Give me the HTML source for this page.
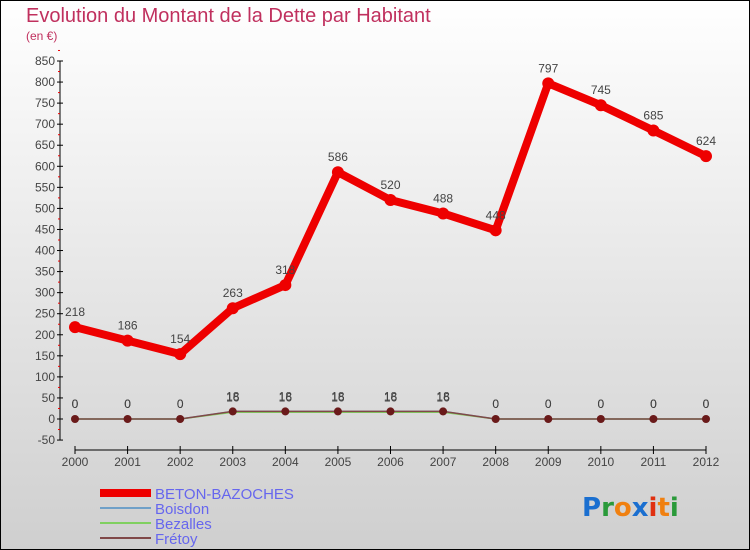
<!DOCTYPE html>
<html><head><meta charset="utf-8"><style>
body{margin:0}
#c{width:750px;height:550px;position:relative;overflow:hidden;font-family:"Liberation Sans",sans-serif}
</style></head><body>
<div id="c">
<svg id="s" width="750" height="550" xmlns="http://www.w3.org/2000/svg">
<defs><linearGradient id="bg" x1="0" y1="0" x2="0" y2="1"><stop offset="0" stop-color="#ffffff"/><stop offset="1" stop-color="#cfcfcf"/></linearGradient></defs>
<rect x="0.5" y="0.5" width="749" height="549" fill="url(#bg)" stroke="#000"/>
<text x="26" y="22" font-size="20" fill="#c0305e">Evolution du Montant de la Dette par Habitant</text>
<text x="26" y="40" font-size="12" fill="#c0305e">(en €)</text>
<g id="axes"></g><g id="series"></g>
<g>
<rect x="100" y="489" width="51" height="8" fill="#e00"/>
<text x="155" y="499" font-size="15" fill="#6666ee">BETON-BAZOCHES</text>
<line x1="100" y1="508" x2="151" y2="508" stroke="#6fa0c8" stroke-width="2"/>
<text x="155" y="514" font-size="15" fill="#6666ee">Boisdon</text>
<line x1="100" y1="523" x2="151" y2="523" stroke="#80d060" stroke-width="2"/>
<text x="155" y="529" font-size="15" fill="#6666ee">Bezalles</text>
<line x1="100" y1="538" x2="151" y2="538" stroke="#804848" stroke-width="2"/>
<text x="155" y="544" font-size="15" fill="#6666ee">Frétoy</text>
</g>
<text x="582" y="516" font-size="26" font-weight="bold" font-family="'DejaVu Sans',sans-serif"><tspan fill="#1a6fd0">P</tspan><tspan fill="#2a9a3a">r</tspan><tspan fill="#f08010">o</tspan><tspan fill="#1a6fd0">x</tspan><tspan fill="#e03010">i</tspan><tspan fill="#f08010">t</tspan><tspan fill="#2a9a3a">i</tspan></text>
</svg></div>
<script>
const years=[2000,2001,2002,2003,2004,2005,2006,2007,2008,2009,2010,2011,2012];
const beton=[218,186,154,263,318,586,520,488,448,797,745,685,624];
const boisdon=[0,0,0,18,18,18,18,18,0,0,0,0,0];
const bezalles=[0,0,0,16,16,16,16,16,0,0,0,0,0];
const fretoy=[0,0,0,18,18,18,18,18,0,0,0,0,0];
const yTicks=[-50,0,50,100,150,200,250,300,350,400,450,500,550,600,650,700,750,800,850];
const NS="http://www.w3.org/2000/svg";
const X=i=>75+i*(706-75)/(years.length-1);
const Y=v=>419-v*(358/850);
function mk(t,a,p){const e=document.createElementNS(NS,t);for(const k in a)e.setAttribute(k,a[k]);p.appendChild(e);return e;}
const ax=document.getElementById('axes'),sg=document.getElementById('series');
mk('line',{x1:60,y1:Y(-50),x2:60,y2:Y(850),stroke:'#000'},ax);
mk('line',{x1:75,y1:450,x2:706,y2:450,stroke:'#000'},ax);
yTicks.forEach(v=>{
 mk('line',{x1:57,y1:Y(v),x2:63,y2:Y(v),stroke:'#000'},ax);
 mk('line',{x1:58,y1:Y(v+25),x2:60,y2:Y(v+25),stroke:'#e00'},ax);
 const t=mk('text',{x:55,y:Y(v)+4,'font-size':12,fill:'#444','text-anchor':'end'},ax);
 
 
 t.textContent=v;});
years.forEach((y,i)=>{
 mk('line',{x1:X(i),y1:446,x2:X(i),y2:454,stroke:'#000'},ax);
 const t=mk('text',{x:X(i),y:466,'font-size':12,fill:'#444','text-anchor':'middle'},ax);
 
 
 t.textContent=y;});
function series(d,color,w,name,r,labels){
 const p=mk('polyline',{points:d.map((v,i)=>X(i)+','+Y(v)).join(' '),fill:'none',stroke:color,'stroke-width':w,'stroke-linejoin':'round'},sg);
 
 
 d.forEach((v,i)=>{
  const c=mk('circle',{cx:X(i),cy:Y(v),r:r,fill:name==='beton'?'#e00':'#6a1a1a'},sg);
  
  
  if(labels){const t=mk('text',{x:X(i),y:Y(v)-11,'font-size':12,fill:'#444','text-anchor':'middle'},sg);
  
  
  t.textContent=v;}
 });}
series(boisdon,'#6fa0c8',1.5,'boisdon',0,false);
series(bezalles,'#80d060',1.5,'bezalles',3,true);
series(fretoy,'#804848',1.5,'fretoy',4,true);
series(beton,'#e00',8,'beton',6,true);
</script>
</body></html>
